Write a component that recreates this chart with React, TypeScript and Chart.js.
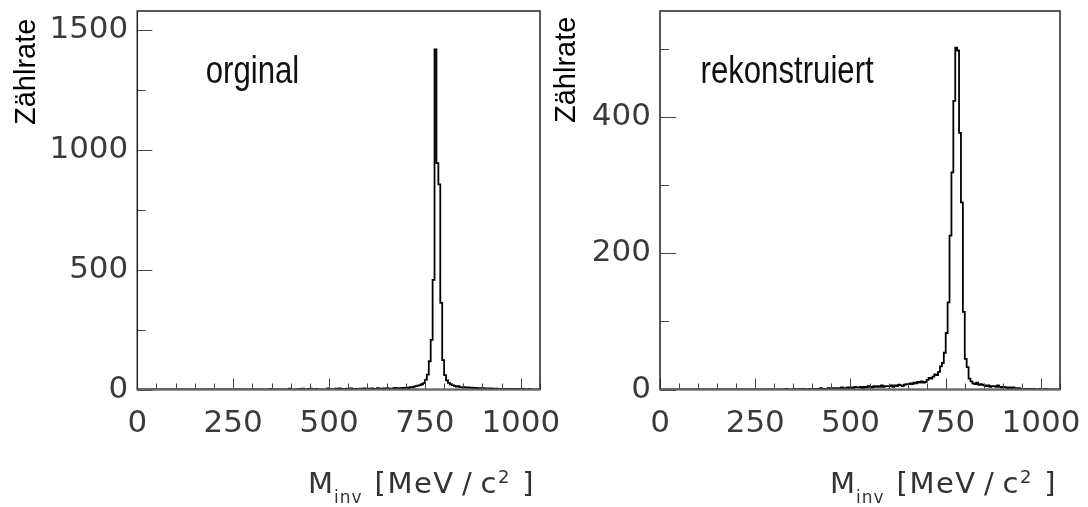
import React, { useEffect, useRef } from 'react';
import { Chart, registerables } from 'chart.js';

Chart.register(...registerables);

// ---------- layout constants ----------
const CANVAS_H = 507;
const PLOT_TOP = 11;
const PLOT_BOTTOM = 389.5;

// ---------- axis definitions ----------
const BIN_WIDTH = 5; // MeV per histogram bin
const X_MIN = 0;
const X_MAX = 1050;
const X_TICKS = [0, 250, 500, 750, 1000];
const X_MINOR_STEP = 50;

const LEFT_Y_MAX = 1580;
const LEFT_Y_TICKS = [0, 500, 1000, 1500];
const LEFT_Y_MINOR_STEP = 250;

const RIGHT_Y_MAX = 556;
const RIGHT_Y_TICKS = [0, 200, 400];
const RIGHT_Y_MINOR_STEP = 100;

// ---------- data: counts per 5 MeV bin, 0 .. 1050 MeV ----------
const ORIGINAL_COUNTS = [
  0, 0, 0, 0, 0, 0, 0, 0, 0, 0, // 0-45
  0, 0, 0, 0, 0, 0, 0, 0, 0, 0, // 50-95
  0, 0, 0, 0, 0, 0, 0, 0, 0, 0, // 100-145
  0, 0, 0, 0, 0, 0, 0, 0, 0, 0, // 150-195
  0, 0, 0, 0, 0, 0, 0, 0, 0, 0, // 200-245
  0, 0, 0, 0, 0, 0, 0, 0, 0, 0, // 250-295
  0, 0, 0, 0, 0, 0, 0, 0, 0, 3, // 300-345
  0, 0, 0, 0, 0, 0, 0, 0, 0, 4, // 350-395
  0, 0, 0, 0, 3, 0, 4, 0, 0, 3, // 400-445
  4, 0, 0, 3, 0, 0, 0, 0, 0, 5, // 450-495
  3, 0, 0, 4, 0, 5, 3, 0, 3, 4, // 500-545
  0, 5, 3, 0, 3, 0, 4, 0, 5, 3, // 550-595
  4, 0, 5, 3, 3, 6, 0, 4, 5, 3, // 600-645
  6, 4, 0, 5, 7, 4, 6, 5, 7, 4, // 650-695
  8, 6, 10, 9, 12, 14, 16, 18, 22, 27, // 700-745
  40, 62, 118, 207, 458, 1420, 945, 856, 362, 123, // 750-795
  60, 38, 28, 22, 18, 15, 12, 14, 10, 9, // 800-845
  10, 8, 9, 7, 8, 6, 7, 5, 6, 5, // 850-895
  6, 4, 5, 3, 5, 4, 3, 4, 2, 3, // 900-945
  3, 2, 3, 0, 2, 3, 0, 2, 0, 2, // 950-995
  0, 2, 0, 0, 2, 0, 0, 0, 0, 0, // 1000-1045
];

const RECONSTRUCTED_COUNTS = [
  0, 0, 0, 0, 0, 0, 0, 0, 0, 0, // 0-45
  0, 0, 0, 0, 0, 0, 0, 0, 0, 0, // 50-95
  0, 0, 0, 0, 0, 0, 0, 0, 0, 0, // 100-145
  0, 0, 0, 0, 0, 0, 0, 0, 0, 0, // 150-195
  0, 0, 0, 0, 0, 0, 0, 0, 0, 0, // 200-245
  0, 0, 0, 0, 0, 0, 0, 0, 0, 0, // 250-295
  0, 0, 0, 0, 0, 0, 1, 0, 0, 0, // 300-345
  1, 0, 0, 1, 0, 1, 0, 0, 1, 0, // 350-395
  1, 1, 0, 1, 2, 1, 0, 1, 2, 1, // 400-445
  2, 1, 2, 1, 2, 3, 2, 1, 3, 2, // 450-495
  3, 2, 4, 3, 3, 4, 2, 4, 3, 5, // 500-545
  4, 3, 5, 4, 5, 4, 6, 4, 5, 5, // 550-595
  5, 6, 4, 6, 5, 7, 6, 5, 7, 8, // 600-645
  8, 9, 8, 10, 9, 11, 10, 12, 10, 11, // 650-695
  14, 17, 16, 19, 22, 21, 26, 34, 39, 54, // 700-745
  83, 128, 226, 319, 424, 502, 498, 377, 275, 114, // 750-795
  45, 33, 16, 12, 9, 8, 10, 7, 8, 7, // 800-845
  6, 5, 6, 4, 5, 5, 4, 6, 4, 3, // 850-895
  4, 3, 2, 3, 2, 3, 2, 1, 2, 1, // 900-945
  1, 1, 0, 1, 1, 0, 1, 0, 0, 1, // 950-995
  0, 0, 1, 0, 0, 0, 0, 0, 0, 0, // 1000-1045
];

// ---------- texts ----------
const Y_TITLE = 'Zählrate';
const X_TITLE_MAIN = 'M';
const X_TITLE_SUB = 'inv';
const X_TITLE_UNIT = '[MeV\u2009/\u2009c';
const X_TITLE_SUP = '2';
const X_TITLE_END = ']';
const LEFT_LABEL = 'orginal';
const RIGHT_LABEL = 'rekonstruiert';

const TICK_FONT_FAMILY = '"DejaVu Sans", "Liberation Sans", sans-serif';

type PanelSpec = {
  counts: number[];
  yMax: number;
  yTicks: number[];
  yMinorStep: number;
  yMajorLen: number;
  yMinorLen: number;
  label: string;
  canvasLeft: number;
  canvasWidth: number;
  plotLeft: number;
  plotRight: number;
  labelX: number;
  yTitleX: number;
  yTitleBottom: number;
  xTitleX: number;
};

const LEFT_SPEC: PanelSpec = {
  counts: ORIGINAL_COUNTS,
  yMax: LEFT_Y_MAX,
  yTicks: LEFT_Y_TICKS,
  yMinorStep: LEFT_Y_MINOR_STEP,
  yMajorLen: 15,
  yMinorLen: 8,
  label: LEFT_LABEL,
  canvasLeft: 0,
  canvasWidth: 600,
  plotLeft: 137.3,
  plotRight: 540,
  labelX: 205.7,
  yTitleX: 35,
  yTitleBottom: 125,
  xTitleX: 308,
};

const RIGHT_SPEC: PanelSpec = {
  counts: RECONSTRUCTED_COUNTS,
  yMax: RIGHT_Y_MAX,
  yTicks: RIGHT_Y_TICKS,
  yMinorStep: RIGHT_Y_MINOR_STEP,
  yMajorLen: 16,
  yMinorLen: 9,
  label: RIGHT_LABEL,
  canvasLeft: 540,
  canvasWidth: 548,
  plotLeft: 660,
  plotRight: 1060,
  labelX: 700.5,
  yTitleX: 575,
  yTitleBottom: 123,
  xTitleX: 830,
};

function Panel({ spec }: { spec: PanelSpec }) {
  const ref = useRef<HTMLCanvasElement>(null);

  useEffect(() => {
    const s = spec;
    const canvas = ref.current;
    if (!canvas) return;
    const off = s.canvasLeft;

    // histogram: value i spans [edge_i, edge_i+1)
    const points = s.counts.map((v, i) => ({ x: X_MIN + i * BIN_WIDTH, y: v }));
    points.push({ x: X_MIN + s.counts.length * BIN_WIDTH, y: s.counts[s.counts.length - 1] });

    const decor = {
      id: 'decor',
      afterDatasetsDraw(chart: any) {
        const { ctx, chartArea: a } = chart;
        const xs = chart.scales.x;
        const ys = chart.scales.y;
        ctx.save();

        // tick marks (inward)
        ctx.strokeStyle = '#444';
        ctx.lineWidth = 1;
        ctx.beginPath();
        for (let v = X_MIN; v <= X_MAX; v += X_MINOR_STEP) {
          const px = Math.round(xs.getPixelForValue(v)) + 0.5;
          const len = X_TICKS.includes(v) ? 11 : 6;
          ctx.moveTo(px, a.bottom);
          ctx.lineTo(px, a.bottom - len);
        }
        for (let v = 0; v <= s.yMax; v += s.yMinorStep) {
          const py = Math.round(ys.getPixelForValue(v)) + 0.5;
          const len = s.yTicks.includes(v) ? s.yMajorLen : s.yMinorLen;
          ctx.moveTo(a.left, py);
          ctx.lineTo(a.left + len, py);
        }
        ctx.stroke();

        // frame
        ctx.strokeStyle = '#222';
        ctx.lineWidth = 1.5;
        ctx.strokeRect(a.left, a.top, a.right - a.left, a.bottom - a.top);
        ctx.strokeStyle = '#666';
        ctx.lineWidth = 2;
        ctx.beginPath();
        ctx.moveTo(a.left, a.bottom);
        ctx.lineTo(a.right, a.bottom);
        ctx.stroke();

        // panel label (narrow sans)
        ctx.fillStyle = '#111';
        ctx.textAlign = 'left';
        ctx.textBaseline = 'alphabetic';
        ctx.save();
        ctx.translate(s.labelX - off, 83);
        ctx.scale(0.82, 1);
        ctx.font = '38px "Liberation Sans", Arial, sans-serif';
        ctx.fillText(s.label, 0, 0);
        ctx.restore();

        // y title
        ctx.save();
        ctx.translate(s.yTitleX - off, s.yTitleBottom);
        ctx.rotate(-Math.PI / 2);
        ctx.font = '29px "Liberation Sans", Arial, sans-serif';
        ctx.fillStyle = '#000';
        ctx.fillText(Y_TITLE, 0, 0);
        ctx.restore();

        // x title with subscript / superscript
        ctx.fillStyle = '#333';
        const base = 493;
        let x = s.xTitleX - off;
        (ctx as any).letterSpacing = '1px';
        ctx.font = '29px ' + TICK_FONT_FAMILY;
        ctx.fillText(X_TITLE_MAIN, x, base);
        x += ctx.measureText(X_TITLE_MAIN).width;
        (ctx as any).letterSpacing = '1px';
        ctx.font = '17px ' + TICK_FONT_FAMILY;
        ctx.fillText(X_TITLE_SUB, x, base + 10);
        x += ctx.measureText(X_TITLE_SUB).width + 12;
        (ctx as any).letterSpacing = '1.5px';
        ctx.font = '29px ' + TICK_FONT_FAMILY;
        ctx.fillText(X_TITLE_UNIT, x, base);
        x += ctx.measureText(X_TITLE_UNIT).width;
        (ctx as any).letterSpacing = '0px';
        ctx.font = '18px ' + TICK_FONT_FAMILY;
        ctx.fillText(X_TITLE_SUP, x, base - 10);
        x += ctx.measureText(X_TITLE_SUP).width + 13;
        ctx.font = '29px ' + TICK_FONT_FAMILY;
        ctx.fillText(X_TITLE_END, x, base);
        (ctx as any).letterSpacing = '0px';

        ctx.restore();
      },
    };

    const chart = new Chart(canvas, {
      type: 'line',
      data: {
        datasets: [
          {
            data: points,
            borderColor: '#000',
            borderWidth: 1.8,
            pointRadius: 0,
            fill: false,
            stepped: 'before',
            tension: 0,
          } as any,
        ],
      },
      options: {
        responsive: false,
        devicePixelRatio: 1,
        animation: false,
        events: [],
        layout: {
          padding: {
            left: 0,
            top: PLOT_TOP,
            right: s.canvasWidth - (s.plotRight - off),
            bottom: 0,
          },
        },
        plugins: {
          legend: { display: false },
          tooltip: { enabled: false },
          title: { display: false },
        },
        scales: {
          x: {
            type: 'linear',
            min: X_MIN,
            max: X_MAX,
            grid: { display: false, drawTicks: false },
            border: { display: false },
            ticks: {
              font: { family: TICK_FONT_FAMILY, size: 31 },
              color: '#3a3a3a',
              padding: 16,
              maxRotation: 0,
              autoSkip: false,
              callback: (v: any) => String(v),
            },
            afterBuildTicks: (scale: any) => {
              scale.ticks = X_TICKS.map((v) => ({ value: v }));
            },
            afterFit: (scale: any) => {
              scale.height = CANVAS_H - PLOT_BOTTOM;
              scale.paddingLeft = 0;
              scale.paddingRight = 0;
            },
          },
          y: {
            type: 'linear',
            min: 0,
            max: s.yMax,
            grid: { display: false, drawTicks: false },
            border: { display: false },
            ticks: {
              font: { family: TICK_FONT_FAMILY, size: 31 },
              color: '#3a3a3a',
              padding: 9,
              autoSkip: false,
              callback: (v: any) => String(v),
            },
            afterBuildTicks: (scale: any) => {
              scale.ticks = s.yTicks.map((v) => ({ value: v }));
            },
            afterFit: (scale: any) => {
              scale.width = s.plotLeft - off;
              scale.paddingTop = 0;
              scale.paddingBottom = 0;
            },
          },
        },
      } as any,
      plugins: [decor],
    });

    return () => chart.destroy();
  }, [spec]);

  return (
    <canvas
      ref={ref}
      width={spec.canvasWidth}
      height={CANVAS_H}
      style={{
        position: 'absolute',
        left: spec.canvasLeft,
        top: 0,
        width: spec.canvasWidth,
        height: CANVAS_H,
      }}
    />
  );
}

export default function App() {
  return (
    <div
      style={{
        position: 'fixed',
        left: 0,
        top: 0,
        width: 1088,
        height: CANVAS_H,
        background: '#fff',
        overflow: 'hidden',
      }}
    >
      <Panel spec={LEFT_SPEC} />
      <Panel spec={RIGHT_SPEC} />
    </div>
  );
}
